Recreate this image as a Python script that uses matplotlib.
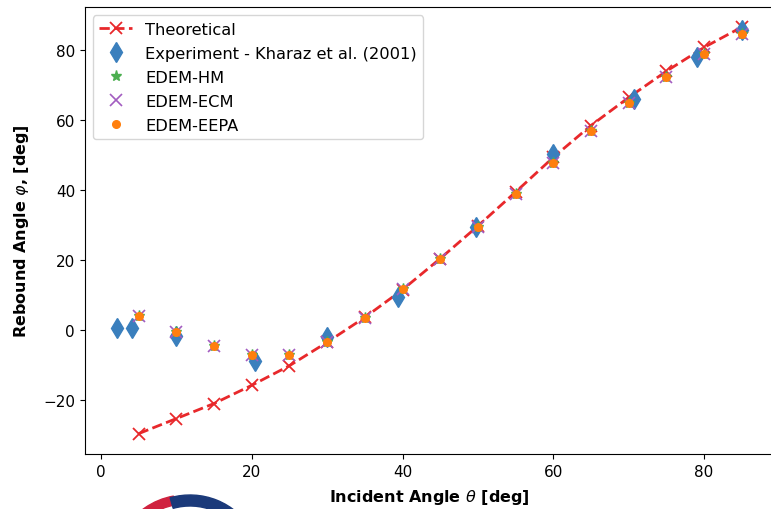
import matplotlib
matplotlib.use("Agg")
import matplotlib.pyplot as plt
from matplotlib.patches import Wedge

# Theoretical curve
theo_x = [5, 10, 15, 20, 25, 30, 35, 40, 45, 50, 55, 60, 65, 70, 75, 80, 85]
theo_y = [-29.5, -25.2, -20.9, -15.7, -10.1, -3.4, 3.7, 11.6, 20.5, 29.8,
          39.5, 49.4, 58.5, 66.5, 74.0, 80.8, 86.6]

# Experiment (Kharaz et al. 2001)
exp_x = [2.1, 4.1, 9.9, 20.4, 30.0, 39.4, 49.8, 60.0, 70.7, 79.1, 85.0]
exp_y = [0.6, 0.6, -1.5, -8.7, -1.8, 9.6, 29.5, 50.3, 66.1, 78.2, 85.8]

# EDEM simulations
edem_x = [5, 10, 15, 20, 25, 30, 35, 40, 45, 50, 55, 60, 65, 70, 75, 80, 85]
hm_y = [4.2, -0.6, -4.6, -7.0, -7.0, -3.2, 3.6, 11.7, 20.3, 29.5,
        38.9, 47.9, 56.9, 65.0, 72.3, 78.9, 84.7]
ecm_y = [4.2, -0.6, -4.6, -7.0, -7.0, -3.2, 3.6, 11.7, 20.3, 29.5,
         38.9, 47.9, 56.9, 65.0, 72.3, 78.9, 84.7]
eepa_y = [4.2, -0.6, -4.6, -7.0, -7.0, -3.2, 3.6, 11.7, 20.3, 29.5,
          38.9, 47.9, 56.9, 65.0, 72.3, 78.9, 84.7]

fig = plt.figure(figsize=(7.71, 5.10), dpi=100)

# logo fragment at the bottom (background axes in pixel units)
bg = fig.add_axes([0, 0, 1, 1], zorder=-1)
bg.set_xlim(0, 771)
bg.set_ylim(0, 510)
bg.axis("off")
bg.add_patch(Wedge((186, -58), 72, 100, 150, width=9, color="#d0223f"))
bg.add_patch(Wedge((190, -58), 72, 30, 106, width=11, color="#1b3a7a"))

ax = fig.add_axes([0.110, 0.108, 0.8926, 0.876])

ax.plot(theo_x, theo_y, linestyle="--", marker="x", color="#e8282b",
        linewidth=2, markersize=8, markeredgewidth=1.3, label="Theoretical")
ax.plot(exp_x, exp_y, linestyle="none", marker="d", color="#3a7fbd",
        markersize=10, label="Experiment - Kharaz et al. (2001)")
ax.plot(edem_x, hm_y, linestyle="none", marker="*", color="#4caf50",
        markersize=8, label="EDEM-HM")
ax.plot(edem_x, ecm_y, linestyle="none", marker="x", color="#a25cc0",
        markersize=8, markeredgewidth=1.2, label="EDEM-ECM")
ax.plot(edem_x, eepa_y, linestyle="none", marker="o", color="#ff7f0e",
        markersize=5.5, label="EDEM-EEPA")

ax.set_xlim(-2.15, 89.15)
ax.set_ylim(-35.3, 92.3)
ax.set_xticks([0, 20, 40, 60, 80])
ax.set_yticks([-20, 0, 20, 40, 60, 80])
ax.tick_params(labelsize=11)

ax.set_xlabel(r"Incident Angle $\theta$ [deg]", fontsize=11.5,
              fontweight="bold", labelpad=6)
ax.set_ylabel(r"Rebound Angle $\varphi$, [deg]", fontsize=11.5,
              fontweight="bold", labelpad=9)

ax.legend(loc="upper left", fontsize=11.7, handlelength=2.0,
          labelspacing=0.55)

fig.savefig("out.png", dpi=100)
